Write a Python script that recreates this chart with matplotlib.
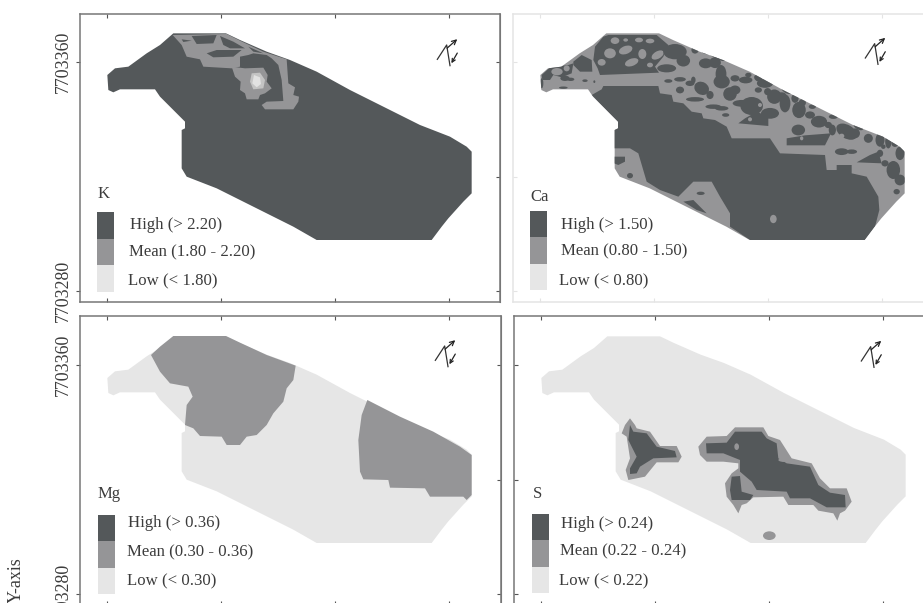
import matplotlib
matplotlib.use("Agg")
import matplotlib.pyplot as plt
from matplotlib.patches import Polygon, Ellipse, Rectangle

plt.rcParams['font.family'] = ['Liberation Serif', 'DejaVu Serif']

W, H = 923, 603
DARK, MEAN, LOW = '#54585a', '#959597', '#e6e6e6'
TXT = '#3c3c3c'

# Field outline (map units)
FIELD = [(520,100),(678,100),(720,120),(800,155),(870,180),(950,215),(1050,270),(1150,320),(1260,375),(1350,410),
         (1400,440),(1415,455),(1415,580),(1390,605),(1345,655),(1325,680),(1295,720),(950,720),(880,680),(750,615),
         (650,565),(560,530),(545,505),(545,390),(555,385),(555,365),(480,290),(465,268),(360,268),(340,277),
         (325,270),(322,225),(345,205),(385,200),(440,160),(480,135)]

# K
K_MEAN = [(518,105),(680,102),(720,122),(790,155),(860,178),(865,250),(885,262),(880,285),(897,290),(895,305),(880,328),
          (795,328),(785,315),(800,305),(850,303),(845,240),(835,195),(815,175),(800,165),(760,160),(745,165),(720,170),
          (720,200),(695,205),(610,200),(600,178),(560,170),(545,135)]
K_MEAN2 = [(695,200),(735,205),(790,203),(803,225),(800,245),(815,265),(795,280),(780,285),(775,298),(740,298),(735,280),
           (720,270),(722,245),(705,230)]
K_DARK = [[(575,108),(650,105),(640,130),(590,132)],
          [(660,108),(700,125),(735,145),(690,145),(670,135)],
          [(620,160),(650,150),(725,150),(700,170),(640,172)],
          [(545,118),(575,122),(550,126)],
          [(745,140),(790,160),(760,155)]]
K_LOW1 = [(755,220),(780,218),(795,240),(790,265),(760,268),(750,245)]
K_LOW2 = [(762,225),(780,232),(783,252),(770,262),(757,250)]

# Ca
CA_DX = 171
CA_DARK_MAIN = [(340,258),(505,258),(510,280),(545,285),(550,305),(580,310),(605,335),(635,340),(640,355),(675,360),
                (710,380),(725,415),(840,415),(870,460),(1005,465),(1010,510),(1040,510),(1040,495),(1085,495),(1085,520),
                (1130,530),(1165,590),(1168,630),(1155,680),(1125,720),(780,720),(720,680),(720,640),
                (690,590),(665,545),(610,545),(565,590),(510,570),(470,545),(445,460),(420,445),(372,445),(372,390),
                (382,380),(382,365),(305,285),(335,268)]
CA_LOWER_DARK = [[(580,605),(610,600),(650,640),(620,630)],
                 [(372,470),(405,470),(405,485),(385,495),(372,490)]]
CA_LOWER_BLOBS = [(420,527,18,16,0),(632,580,24,10,0)]
CA_MEAN_BLOBS = [(850,657,20,25,0)]

# Upper-left part of the Ca map
C1_DX, C1_DY = 135, 90
C1_DARK_POLYS = [[(205,20),(220,15),(365,15),(400,45),(385,80),(360,110),(372,128),(195,135),(188,115),(175,90),(180,50)],
                 [(115,95),(140,75),(170,90),(172,125),(135,125),(115,105)],
                 [(20,135),(45,112),(100,105),(115,100),(110,130),(80,142),(55,135),(45,150),(22,150)]]
C1_MEAN_BLOBS = [(240,32,26,20,0),(225,70,35,30,0),(272,60,42,24,-20),(290,97,42,22,-20),(200,97,24,20,0),
                 (322,72,24,30,0),(345,33,26,14,0),(368,75,40,22,-30),(272,30,14,10,0),(312,30,24,14,0),
                 (66,125,34,22,0),(95,115,18,18,0),(345,105,18,14,0),(165,65,20,16,0)]
C1_DARK_BLOBS = [(420,65,52,34,0),(395,115,42,18,0),(445,92,30,26,0),(480,60,16,16,0),(512,100,30,22,0),(540,98,26,24,0),
                 (558,132,24,40,0),(540,75,50,12,30),(400,153,18,8,0),(435,148,26,10,0),(465,160,20,12,0),(500,175,34,28,30),
                 (435,180,18,15,0),(480,208,40,10,0),(535,230,35,10,0),(475,150,10,15,0),(525,195,16,18,0),(440,30,16,8,30),
                 (470,40,30,14,30),(510,60,26,16,30)]
C1_EDGE_BLOBS = [(20,160,10,30,0),(90,145,28,16,0),(107,148,22,10,0),(150,152,16,8,0),(178,155,6,8,0),(85,173,26,7,0)]

# Upper-right part of the Ca map
C2_DX, C2_DY = 675, 210
C2_DARK_POLYS = [[(215,226),(330,226),(348,190),(270,196),(215,205)],
                 [(425,277),(500,280),(490,245),(465,255)],
                 [(70,160),(160,168),(160,140),(125,125),(90,145)]]
C2_DARK_BLOBS = [(20,35,36,30,0),(45,72,30,30,0),(92,30,30,15,0),(150,40,36,20,0),(110,108,50,40,0),(178,80,32,32,0),
                 (158,65,16,16,0),(210,100,24,40,0),(252,120,30,36,0),(165,130,40,24,0),(80,100,40,15,0),(20,115,30,10,0),
                 (200,75,20,12,0),(262,98,16,16,0),(32,135,16,8,0),(292,110,16,10,0),(312,155,36,26,0),(250,180,30,24,0),
                 (395,185,50,30,30),(352,180,16,24,0),(380,245,30,15,0),(410,245,24,10,0),(495,210,20,30,0),
                 (555,250,20,30,0),(535,300,30,40,0),(555,330,24,24,0),(540,220,16,16,0),(505,230,10,10,0),(355,140,20,10,0),
                 (495,250,14,16,0),(510,280,16,14,0),(545,365,14,12,0),(100,15,14,10,0),(60,25,20,14,0),(130,60,16,12,0),
                 (60,60,24,20,0),(130,25,20,14,30),(215,60,26,14,30),(240,85,16,20,0),(285,135,22,16,0),(340,165,16,14,0),
                 (420,190,22,22,0),(460,205,20,20,0),(520,215,14,30,0),(430,170,24,12,30)]
C2_MEAN_BLOBS = [(282,178,12,12,0),(260,205,10,12,0),(380,198,16,14,0),(135,105,12,12,0),(105,148,12,12,0),(205,148,12,12,0)]
BLOB_GROW = 1.35

# Mg
MG_DY = -9
MG_MEAN = [[(453,165),(480,140),(520,108),(678,108),(720,128),(800,165),(887,197),(880,240),(860,265),(850,305),(820,340),
            (800,375),(770,405),(740,410),(720,435),(680,435),(665,410),(600,408),(580,385),(555,375),(560,315),(578,290),
            (565,260),(510,250),(480,215)],
           [(1102,300),(1200,350),(1300,395),(1380,440),(1415,465),(1415,585),(1400,600),(1390,590),(1290,590),(1275,565),
            (1170,563),(1165,540),(1090,538),(1080,515),(1075,420),(1085,345)]]

# S
S_DX, S_DY = 168, -9
S_MEAN = [[(420,355),(435,375),(440,385),(480,395),(510,438),(560,438),(575,470),(565,487),(500,487),(465,530),(415,540),
           (407,510),(420,475),(410,410),(395,400),(405,375)],
          [(625,440),(650,410),(710,408),(735,382),(820,382),(835,408),(870,420),(905,475),(965,490),(990,535),(1020,565),
           (1070,565),(1085,605),(1065,632),(1050,640),(1042,662),(1030,640),(985,632),(970,615),(895,615),(880,590),
           (790,592),(770,610),(755,615),(745,640),(730,615),(710,590),(705,550),(725,520),(745,505),(745,490),(700,485),
           (650,485),(630,465)]]
S_DARK = [[(420,375),(430,395),(470,400),(500,440),(555,453),(560,472),(490,475),(450,500),(440,520),(420,522),(420,505),
           (440,470),(415,420)],
          [(648,430),(710,428),(735,395),(815,395),(830,415),(860,430),(865,475),(890,490),(960,500),(985,555),(1020,578),
           (1065,585),(1067,622),(1010,622),(960,595),(900,595),(890,575),(800,570),(785,545),(750,515),(750,480),(700,460),
           (650,460)],
          [(725,530),(750,528),(755,575),(790,585),(780,600),(725,600),(720,570)]]
S_MEAN_BLOBS = [(838,707,38,26,0),(740,440,14,20,0),(885,480,40,12,0)]

# Panel boxes: name, left/top/right/bottom in output pixels, spine colour, map offset
PANELS = {
    'K':  dict(box=(80, 14, 500, 302),  edge='#777777', off=(0, 0)),
    'Ca': dict(box=(513, 14, 933, 302), edge='#e4e4e4', off=(433, 0)),
    'Mg': dict(box=(80, 316, 501, 605), edge='#777777', off=(0, 303)),
    'S':  dict(box=(514, 316, 934, 605), edge='#777777', off=(434, 303)),
}
X_TICKS = [321, 663, 1005, 1347]
Y_TICKS = [186, 531, 873]
Y_LABELS = ['7703360', '7703280']

LEGENDS = {
    'K':  dict(title_xy=(104,194), patch=(97,212,17,26.6), text=[(130,225,'High (> 2.20)'),(129,252,'Mean (1.80 - 2.20)'),(128,281,'Low (< 1.80)')]),
    'Ca': dict(title_xy=(540,197), patch=(530,211,17,26.3), text=[(561,225,'High (> 1.50)'),(561,251,'Mean (0.80 - 1.50)'),(559,281,'Low (< 0.80)')]),
    'Mg': dict(title_xy=(109,494), patch=(98,515,17,26.3), text=[(128,523,'High (> 0.36)'),(127,552,'Mean (0.30 - 0.36)'),(127,581,'Low (< 0.30)')]),
    'S':  dict(title_xy=(537,494), patch=(532,514,17,26.3), text=[(561,524,'High (> 0.24)'),(560,551,'Mean (0.22 - 0.24)'),(559,581,'Low (< 0.22)')]),
}
COMPASS_TIP = {'K': (1378,112), 'Ca': (1363,108), 'Mg': (1372,106), 'S': (1348,108)}
COMPASS_ZIG = [(-66,66),(-38,23),(-28,85)]
COMPASS_TAIL = (-43,38)
COMPASS_LOW = ((-2,40),(-28,85))


def shift(pts, dx=0, dy=0):
    return [(x+dx, y+dy) for x, y in pts]


fig = plt.figure(figsize=(W/100, H/100), dpi=100, facecolor='white')
axes = {}
for name, p in PANELS.items():
    l, t, r, b = p['box']
    ax = fig.add_axes([l/W, 1-b/H, (r-l)/W, (b-t)/H])
    ox, oy = p['off']
    ax.set_xlim((l-ox)*3, (r-ox)*3)
    ax.set_ylim((b-oy)*3, (t-oy)*3)
    for s in ax.spines.values():
        s.set_color(p['edge'])
        s.set_linewidth(1.1)
    tc = p['edge'] if name == 'Ca' else '#555555'
    ax.set_xticks(X_TICKS)
    ax.set_xticklabels([])
    ax.tick_params(axis='x', direction='in', top=True, bottom=True, length=3, width=0.8, color=tc)
    if name in ('K', 'Mg'):
        ax.set_yticks([Y_TICKS[0], Y_TICKS[2]])
        ax.set_yticklabels(Y_LABELS, rotation=90, va='center', fontsize=12.9, color=TXT)
        ax.tick_params(axis='y', direction='out', length=3.2, width=0.8, color=tc, pad=3)
        sec = ax.secondary_yaxis('right')
        sec.set_yticks(Y_TICKS)
        sec.set_yticklabels([])
        sec.tick_params(direction='in', length=3, width=0.8, color=tc)
        sec.spines['right'].set_color(p['edge'])
    else:
        ax.set_yticks(Y_TICKS)
        ax.set_yticklabels([])
        ax.tick_params(axis='y', direction='in', length=3, width=0.8, color=tc)
    axes[name] = ax

    base = LOW if name in ('Mg', 'S') else (MEAN if name == 'Ca' else DARK)
    ax.add_patch(Polygon(FIELD, closed=True, fc=base, ec='none', zorder=1))

    tipx, tipy = COMPASS_TIP[name]
    ax.plot([tipx+c[0] for c in COMPASS_ZIG], [tipy+c[1] for c in COMPASS_ZIG], color='#333333', lw=0.9, zorder=5)
    ax.annotate('', xy=(tipx, tipy), xytext=(tipx+COMPASS_TAIL[0], tipy+COMPASS_TAIL[1]),
                arrowprops=dict(arrowstyle='->', color='#222222', lw=0.9, mutation_scale=8), zorder=5)
    ax.annotate('', xy=(tipx+COMPASS_LOW[1][0], tipy+COMPASS_LOW[1][1]),
                xytext=(tipx+COMPASS_LOW[0][0], tipy+COMPASS_LOW[0][1]),
                arrowprops=dict(arrowstyle='->', color='#222222', lw=0.9, mutation_scale=6), zorder=5)


def fill(ax, pts, color, z=2):
    ax.add_patch(Polygon(pts, closed=True, fc=color, ec='none', zorder=z))


def blob(ax, b, color, dx=0, dy=0, z=3, grow=1.0):
    ax.add_patch(Ellipse((b[0]+dx, b[1]+dy), b[2]*grow, b[3]*grow, angle=b[4], fc=color, ec='none', zorder=z))


a = axes['K']
fill(a, K_MEAN, MEAN)
fill(a, K_MEAN2, MEAN)
for d in K_DARK:
    fill(a, d, DARK, 3)
fill(a, K_LOW1, '#c4c4c4', 3)
fill(a, K_LOW2, '#e2e2e2', 4)

a = axes['Ca']
clip_poly = Polygon(FIELD, closed=True, transform=a.transData)
patches_before = len(a.patches)
fill(a, shift(CA_DARK_MAIN, CA_DX), DARK)
for d in CA_LOWER_DARK:
    fill(a, shift(d, CA_DX), DARK)
for b_ in CA_LOWER_BLOBS:
    blob(a, b_, DARK, CA_DX)
for b_ in CA_MEAN_BLOBS:
    blob(a, b_, MEAN, CA_DX, z=4)
for d in C1_DARK_POLYS:
    fill(a, shift(d, C1_DX+CA_DX, C1_DY), DARK)
for b_ in C1_MEAN_BLOBS:
    blob(a, b_, MEAN, C1_DX+CA_DX, C1_DY, z=3)
for b_ in C1_DARK_BLOBS:
    blob(a, b_, DARK, C1_DX+CA_DX, C1_DY, z=4, grow=BLOB_GROW)
for b_ in C1_EDGE_BLOBS:
    blob(a, b_, DARK, C1_DX+CA_DX, C1_DY, z=4)
for d in C2_DARK_POLYS:
    fill(a, shift(d, C2_DX+CA_DX, C2_DY), DARK, 3)
for b_ in C2_DARK_BLOBS:
    blob(a, b_, DARK, C2_DX+CA_DX, C2_DY, z=4, grow=BLOB_GROW)
for b_ in C2_MEAN_BLOBS:
    blob(a, b_, MEAN, C2_DX+CA_DX, C2_DY, z=5)
for patch in a.patches[patches_before:]:
    patch.set_clip_path(clip_poly)

a = axes['Mg']
for d in MG_MEAN:
    fill(a, shift(d, 0, MG_DY), MEAN)

a = axes['S']
for d in S_MEAN:
    fill(a, shift(d, S_DX, S_DY), MEAN)
for d in S_DARK:
    fill(a, shift(d, S_DX, S_DY), DARK, 3)
for b_ in S_MEAN_BLOBS:
    blob(a, b_, MEAN, S_DX, S_DY, z=4)

# Legends drawn in figure-level pixel coordinates
overlay = fig.add_axes([0, 0, 1, 1], facecolor='none')
overlay.set_xlim(0, W)
overlay.set_ylim(H, 0)
overlay.axis('off')
for name, lg in LEGENDS.items():
    x, y, w, h = lg['patch']
    for i, col in enumerate((DARK, MEAN, LOW)):
        overlay.add_patch(Rectangle((x, y+i*h), w, h, fc=col, ec='none'))
    overlay.text(*lg['title_xy'], name, ha='center', va='center', fontsize=12, color=TXT)
    for tx, ty, s in lg['text']:
        overlay.text(tx, ty, s, ha='left', va='center', fontsize=12.1, color=TXT)
overlay.text(16, 557, 'Y-axis', rotation=90, ha='center', va='top', fontsize=13, color=TXT)

fig.savefig('out.png', dpi=100)
